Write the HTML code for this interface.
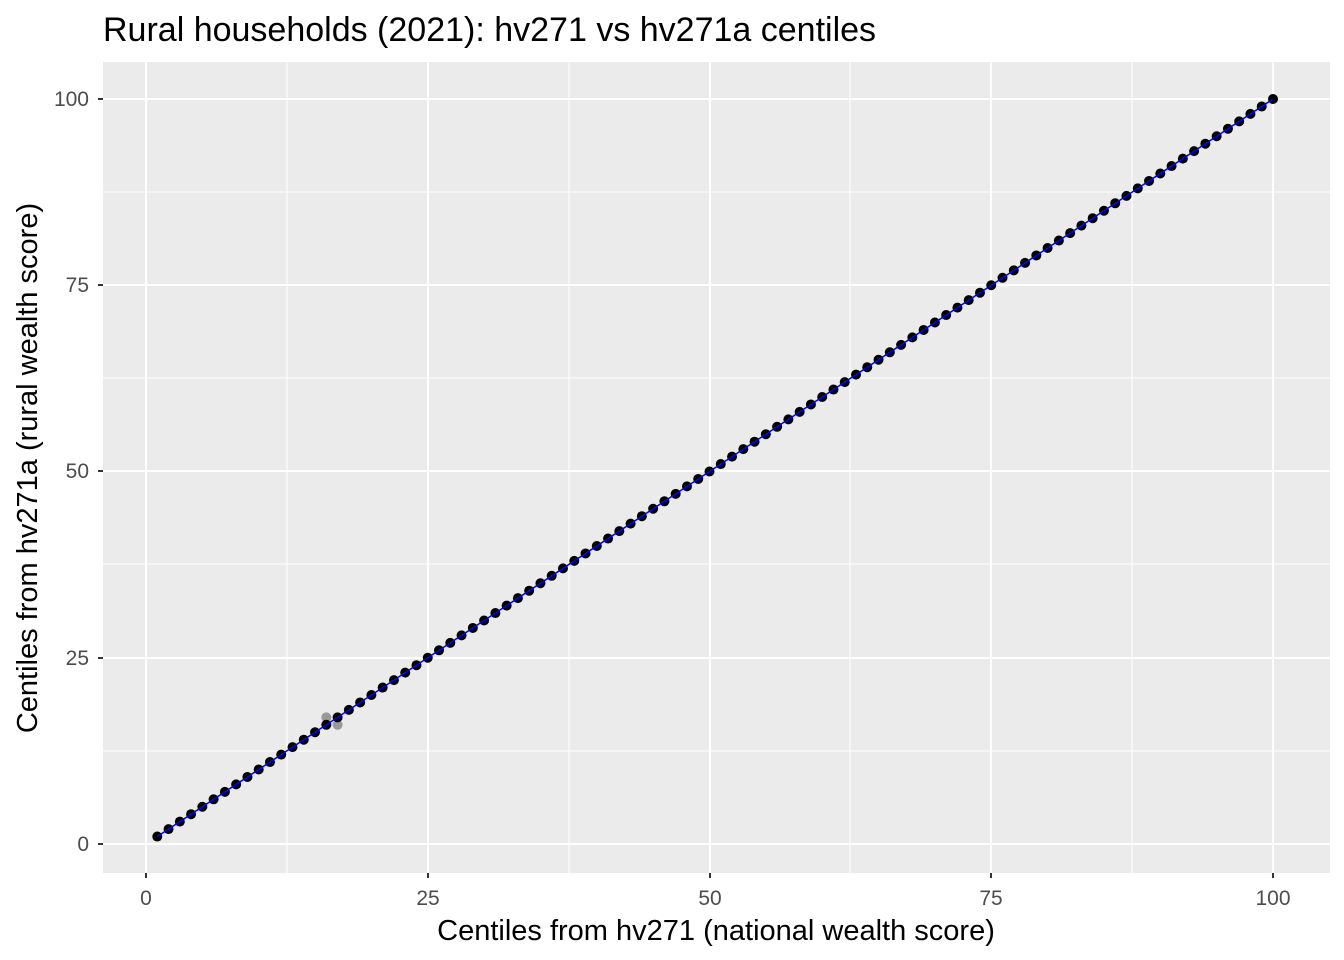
<!DOCTYPE html>
<html><head><meta charset="utf-8"><style>body{margin:0;background:#fff}svg{display:block}text{font-family:"Liberation Sans",Arial,sans-serif}</style></head><body>
<svg id="s" width="1344" height="960" xmlns="http://www.w3.org/2000/svg">
<rect x="103" y="62" width="1227" height="811" fill="#EBEBEB"/>
<g stroke="#fff" stroke-width="1.1">
<line x1="287" x2="287" y1="62" y2="873"/><line x1="569" x2="569" y1="62" y2="873"/><line x1="850" x2="850" y1="62" y2="873"/><line x1="1132" x2="1132" y1="62" y2="873"/>
<line x1="103" x2="1330" y1="192" y2="192"/><line x1="103" x2="1330" y1="378" y2="378"/><line x1="103" x2="1330" y1="564" y2="564"/><line x1="103" x2="1330" y1="751" y2="751"/>
</g>
<g stroke="#fff" stroke-width="2.1">
<line x1="146" x2="146" y1="62" y2="873"/><line x1="428" x2="428" y1="62" y2="873"/><line x1="710" x2="710" y1="62" y2="873"/><line x1="991" x2="991" y1="62" y2="873"/><line x1="1273" x2="1273" y1="62" y2="873"/>
<line x1="103" x2="1330" y1="99" y2="99"/><line x1="103" x2="1330" y1="285" y2="285"/><line x1="103" x2="1330" y1="471" y2="471"/><line x1="103" x2="1330" y1="658" y2="658"/><line x1="103" x2="1330" y1="844" y2="844"/>
</g>
<g id="pts"></g>
<line x1="157.3" y1="836.5" x2="1273" y2="99" stroke="#0000FF" stroke-width="1.5"/>
<g stroke="#333" stroke-width="2">
<line x1="146" x2="146" y1="873" y2="878"/><line x1="428" x2="428" y1="873" y2="878"/><line x1="710" x2="710" y1="873" y2="878"/><line x1="991" x2="991" y1="873" y2="878"/><line x1="1273" x2="1273" y1="873" y2="878"/>
<line x1="98" x2="103" y1="99" y2="99"/><line x1="98" x2="103" y1="285" y2="285"/><line x1="98" x2="103" y1="471" y2="471"/><line x1="98" x2="103" y1="658" y2="658"/><line x1="98" x2="103" y1="844" y2="844"/>
</g>
<g font-size="21" fill="#4D4D4D" text-anchor="middle">
<text x="146" y="905">0</text><text x="428" y="905">25</text><text x="710" y="905">50</text><text x="991" y="905">75</text><text x="1273" y="905">100</text>
</g>
<g font-size="21" fill="#4D4D4D" text-anchor="end">
<text x="89" y="106">100</text><text x="89" y="292">75</text><text x="89" y="478">50</text><text x="89" y="665">25</text><text x="89" y="851">0</text>
</g>
<text x="716" y="940" font-size="29" text-anchor="middle" fill="#000">Centiles from hv271 (national wealth score)</text>
<text transform="translate(37,468) rotate(-90)" font-size="29" text-anchor="middle" fill="#000">Centiles from hv271a (rural wealth score)</text>
<text x="103" y="41" font-size="34" fill="#000">Rural households (2021): hv271 vs hv271a centiles</text>
</svg>
<script>
var g=document.getElementById('pts'),ns='http://www.w3.org/2000/svg';
function c(a,b,f){var e=document.createElementNS(ns,'circle');e.setAttribute('cx',146+11.27*a);e.setAttribute('cy',844-7.45*b);e.setAttribute('r',5);e.setAttribute('fill',f);g.appendChild(e);}
c(16,17,'#999');c(17,16,'#999');
for(var i=1;i<=100;i++)c(i,i,'#000');
</script>
</body></html>
